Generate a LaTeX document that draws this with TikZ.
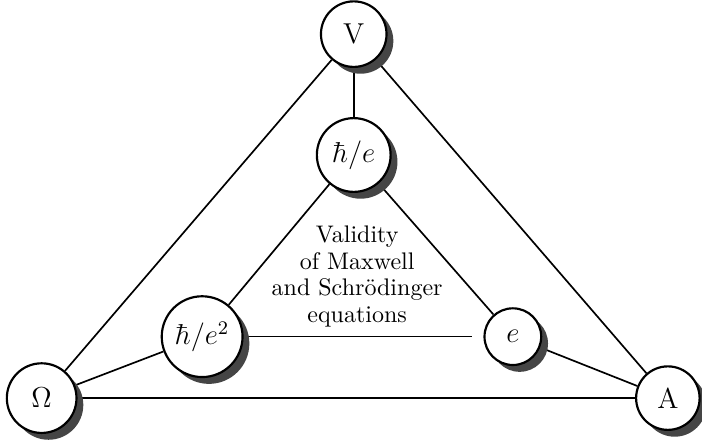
\documentclass[tikz,border=0pt]{standalone}
\usetikzlibrary{shadows,backgrounds}
\definecolor{Shade}{HTML}{454545}

\begin{document}
\begin{tikzpicture}[
    unit/.style={circle,draw,line width=0.9pt,fill=white,minimum size=0.96cm,inner sep=0.1cm,
      font=\large,
      drop shadow={shadow xshift=0.1cm,shadow yshift=-0.1cm,fill=Shade,opacity=1}},
    link/.style={draw,line width=0.7pt}]
  \useasboundingbox (0,0) rectangle (10.28,6.44);
  % outer triangle: the base units
  \node[unit] (V) at (5.18,5.94) {V};
  \node[unit,minimum size=1.02cm] (Omega) at (0.61,0.61) {$\Omega$};
  \node[unit,minimum size=0.93cm] (A) at (9.78,0.61) {A};
  % inner triangle: the constants
  \node[unit,minimum size=1.08cm] (hbare) at (5.18,4.17) {$\hbar/e$};
  \node[unit,minimum size=1.16cm] (hbaree) at (2.96,1.51) {$\hbar/e^2$};
  \node[unit,minimum size=0.83cm] (e) at (7.51,1.51) {$e$};
  \node[align=center,font=\fontsize{10}{11}\selectfont] (note) at (5.23,2.39)
    {Validity\\of Maxwell\\and Schr\"odinger\\equations};
  \begin{scope}[on background layer]
    \draw[link] (V)--(Omega);
    \draw[link] (V)--(A);
    \draw[link] (Omega)--(A);
    \draw[link] (V)--(hbare);
    \draw[link] (hbare)--(hbaree);
    \draw[link] (hbare)--(e);
    \draw[link,shorten >=0.17cm] (hbaree)--(e);
    \draw[link] (Omega)--(hbaree);
    \draw[link] (e)--(A);
  \end{scope}
\end{tikzpicture}
\end{document}
